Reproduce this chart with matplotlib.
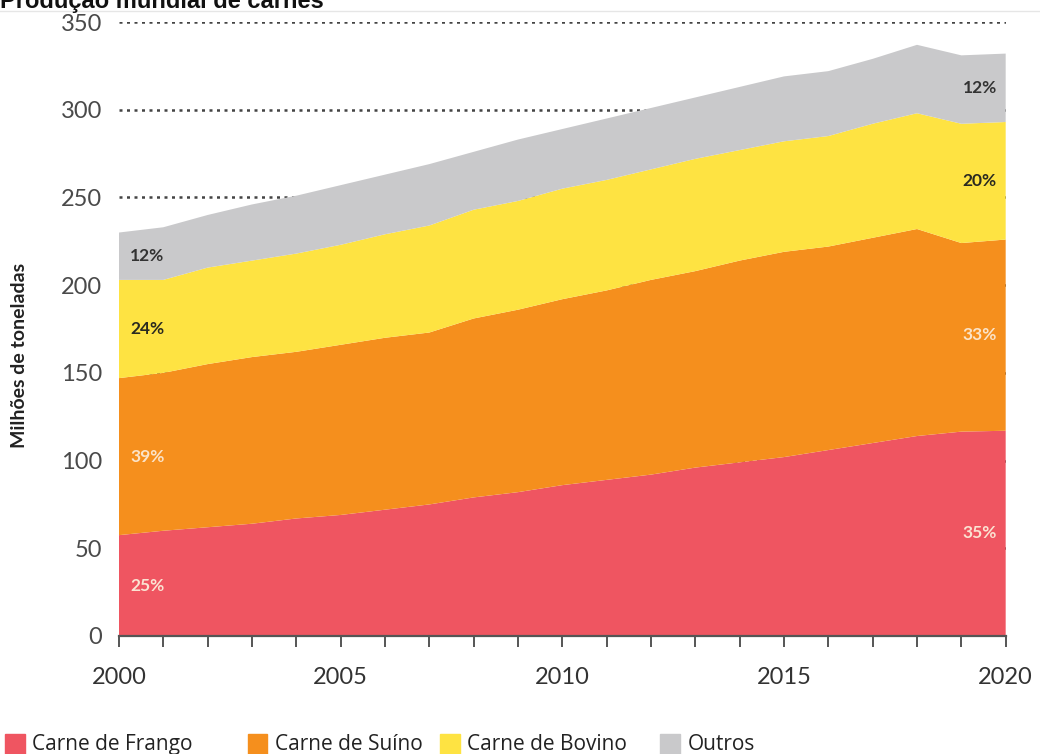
import matplotlib.pyplot as plt
from matplotlib.patches import Rectangle
from matplotlib.lines import Line2D

# produção mundial de carnes, milhões de toneladas
anos = list(range(2000, 2021))
frango = [57.5, 60, 62, 64, 67, 69, 72, 75, 79, 82, 86, 89, 92, 96, 99, 102, 106, 110, 114, 116.5, 117]
suino = [89.5, 90, 93, 95, 95, 97, 98, 98, 102, 104, 106, 108, 111, 112, 115, 117, 116, 117, 118, 107.5, 109]
bovino = [56, 53, 55, 55, 56, 57, 59, 61, 62, 62, 63, 63, 63, 64, 63, 63, 63, 65, 66, 68, 67]
outros = [27, 30, 30, 32, 33, 34, 34, 35, 33, 35, 34, 35, 35, 35, 36, 37, 37, 37, 39, 39, 39]

nomes = ['Carne de Frango', 'Carne de Suíno', 'Carne de Bovino', 'Outros']
cores = ['#EF5561', '#F58F1D', '#FEE342', '#C9C9CB']

fig = plt.figure(figsize=(10.4, 7.54), dpi=100)
ax = fig.add_axes([0.1144, 0.1565, 0.8526, 0.8143])

series = [frango, suino, bovino, outros]
ax.stackplot(anos, *series, colors=cores, linewidth=0, zorder=2)

ax.set_xlim(2000, 2020)
ax.set_ylim(0, 350)

# linhas pontilhadas de grade (ficam atrás das áreas)
for v in range(50, 351, 50):
    ax.axhline(v, color='#444444', linestyle=(0, (1.2, 1.8)), linewidth=1.8, zorder=1)

for s in ['left', 'right', 'top']:
    ax.spines[s].set_visible(False)
ax.spines['bottom'].set_color('#555555')
ax.spines['bottom'].set_linewidth(1.6)
ax.spines['bottom'].set_zorder(3)

ax.set_xticks(anos)
ax.set_xticklabels([str(a) if a % 5 == 0 else '' for a in anos])
ax.tick_params(axis='x', direction='out', length=8, width=1.4, color='#555555',
               labelsize=17, labelcolor='#333333', pad=14)
ax.set_yticks(range(0, 351, 50))
ax.tick_params(axis='y', length=0, labelsize=17, labelcolor='#4a4a4a', pad=12)
for lbl in ax.get_xticklabels() + ax.get_yticklabels():
    lbl.set_family('Lato')

# rótulos de participação no início e no fim da série
def rotulo_pct(i, idx, ha, xpos, cor):
    base = sum(s[idx] for s in series[:i])
    total = sum(s[idx] for s in series)
    val = series[i][idx]
    pct = round(100 * val / total)
    ax.text(xpos, base + val / 2, f'{pct}%', ha=ha, va='center', fontsize=12.5,
            fontweight='bold', color=cor, family='Lato', zorder=4)

cores_txt = ['#FBE3D2', '#FBE3C8', '#2A2A20', '#333333']
for i in range(4):
    rotulo_pct(i, 0, 'left', 2000.25, cores_txt[i])
    rotulo_pct(i, -1, 'right', 2019.8, cores_txt[i])

fig.text(0.019, 0.529, 'Milhões de toneladas', rotation=90, ha='center', va='center',
         fontsize=14, fontweight='bold', color='#222222', family='Lato')

fig.text(0.0, 0.989, 'Produção mundial de carnes', ha='left', va='baseline',
         fontsize=17, fontweight='bold', color='#111111', family='Liberation Sans')
fig.add_artist(Line2D([0, 1], [0.985, 0.985], color='#E6E6E6', linewidth=1))

# legenda manual na base
leg_x = [0.005, 0.238, 0.423, 0.635]
for nome, cor, x in zip(nomes, cores, leg_x):
    fig.add_artist(Rectangle((x, 0.0), 0.019, 0.027, color=cor, transform=fig.transFigure))
    fig.text(x + 0.026, 0.013, nome, ha='left', va='center', fontsize=15,
             color='#222222', family='Open Sans')

fig.savefig('out.png', dpi=100)
